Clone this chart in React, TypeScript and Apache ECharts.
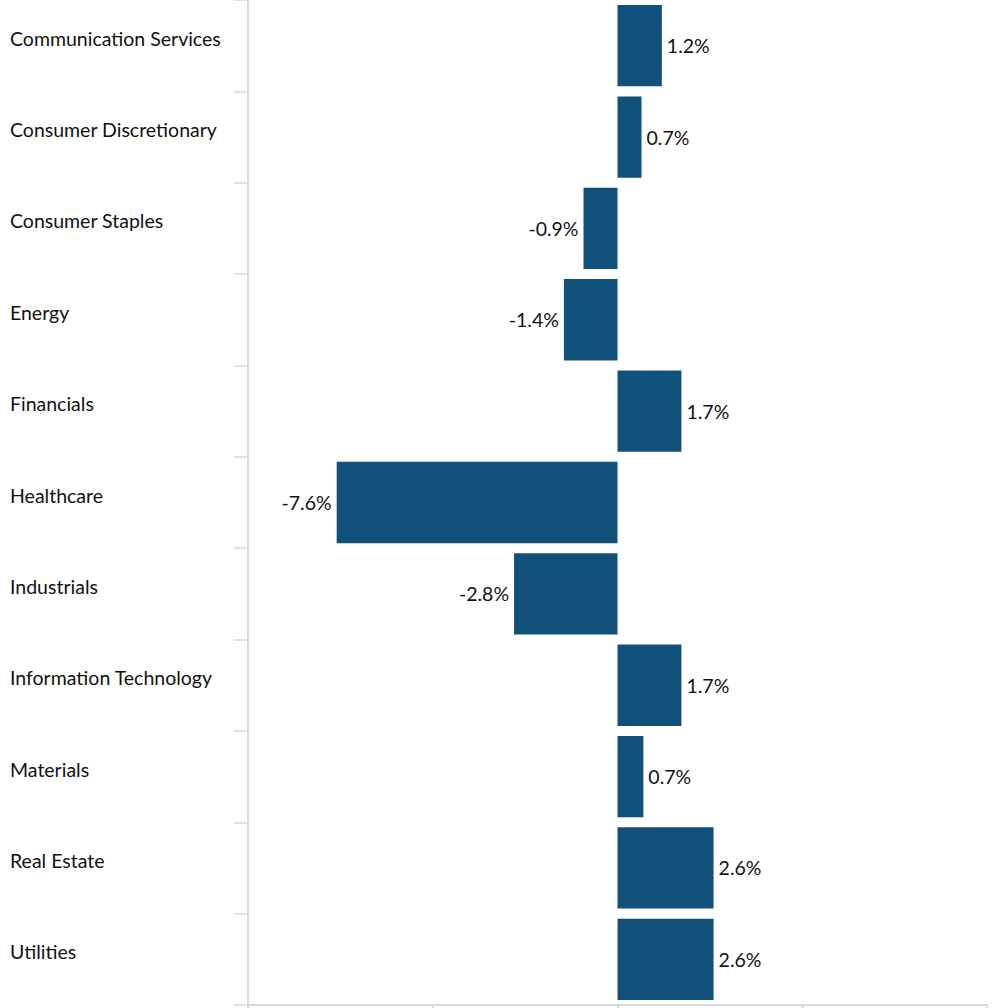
import React, { useEffect, useRef } from "react";
import * as echarts from "echarts";

const categories = [
  "Communication Services",
  "Consumer Discretionary",
  "Consumer Staples",
  "Energy",
  "Financials",
  "Healthcare",
  "Industrials",
  "Information Technology",
  "Materials",
  "Real Estate",
  "Utilities",
];
const values = [1.2, 0.65, -0.92, -1.45, 1.73, -7.6, -2.8, 1.73, 0.7, 2.6, 2.6];
const xMin = -10;
const xMax = 10;
const xInterval = 5;

export default function App() {
  const ref = useRef<HTMLDivElement>(null);
  useEffect(() => {
    if (!ref.current) return;
    const chart = echarts.init(ref.current, undefined, { renderer: "svg" });
    const font = "Lato, 'Noto Sans', sans-serif";
    chart.setOption({
      animation: false,
      grid: { left: 248, right: 7, top: 0, bottom: 3, containLabel: false },
      xAxis: {
        type: "value",
        min: xMin,
        max: xMax,
        interval: xInterval,
        axisLine: { show: true, onZero: false, lineStyle: { color: "#d9d9d9", width: 2 } },
        axisTick: { show: true, length: 4, lineStyle: { color: "#d9d9d9", width: 2 } },
        axisLabel: { show: false },
        splitLine: { show: false },
      },
      yAxis: {
        type: "category",
        data: categories,
        inverse: true,
        axisLine: { show: true, onZero: false, lineStyle: { color: "#d9d9d9", width: 2 } },
        axisTick: { show: true, length: 14, lineStyle: { color: "#d9d9d9", width: 1.5 } },
        axisLabel: {
          align: "left",
          verticalAlign: "bottom",
          lineHeight: 15,
          margin: 238,
          fontFamily: font,
          fontSize: 19.5,
          color: "#111111",
        },
        splitLine: { show: false },
      },
      series: [
        {
          type: "bar",
          barCategoryGap: "11%",
          data: values.map((v) => ({
            value: v,
            label: { position: v >= 0 ? "right" : "left" },
          })),
          itemStyle: { color: "#11507a" },
          label: {
            show: true,
            distance: 5,
            fontFamily: font,
            fontSize: 19.5,
            color: "#111111",
            formatter: (p: any) => `${Number(p.value).toFixed(1)}%`,
          },
        },
      ],
    });
    return () => chart.dispose();
  }, []);
  return (
    <div
      ref={ref}
      style={{ position: "absolute", left: 0, top: 0, width: 994, height: 1008 }}
    />
  );
}
